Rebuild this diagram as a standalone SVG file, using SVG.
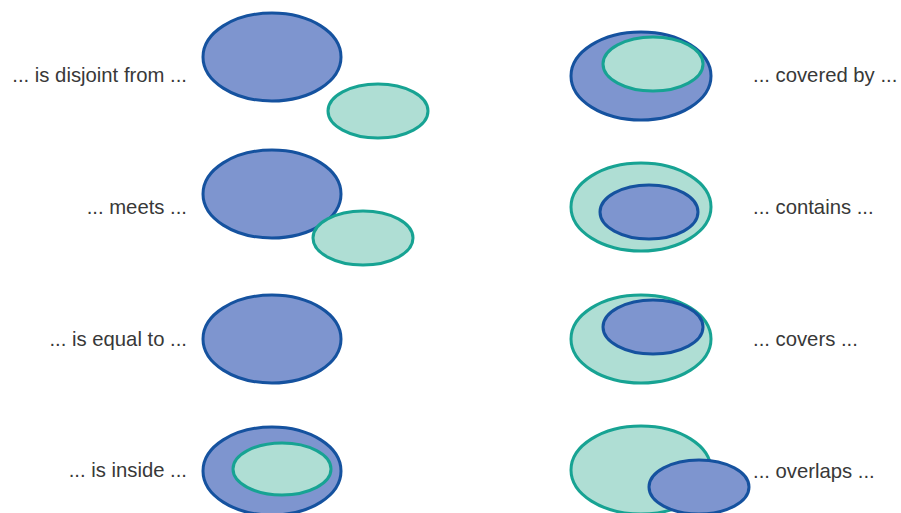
<svg xmlns="http://www.w3.org/2000/svg" width="901" height="513" viewBox="0 0 901 513">
<style>
.b{fill:#7e95cf;stroke:#15529f;stroke-width:3}
.t{fill:#afded4;stroke:#17a393;stroke-width:3}
.l{font-family:"Liberation Sans",Arial,sans-serif;font-size:20.3px;fill:#383838}
.r{text-anchor:end}
</style>
<rect width="901" height="513" fill="#fff"/>
<g id="disjoint">
<ellipse class="b" cx="272" cy="57" rx="69" ry="44"/>
<ellipse class="t" cx="378" cy="111" rx="50" ry="27"/>
<text class="l r" x="187" y="82">... is disjoint from ...</text>
</g>
<g id="meets">
<ellipse class="b" cx="272" cy="194" rx="69" ry="44"/>
<ellipse class="t" cx="363" cy="238" rx="50" ry="27"/>
<text class="l r" x="187" y="214">... meets ...</text>
</g>
<g id="equal">
<ellipse class="b" cx="272" cy="339" rx="69" ry="44"/>
<text class="l r" x="187" y="346">... is equal to ...</text>
</g>
<g id="inside">
<ellipse class="b" cx="272" cy="471" rx="69" ry="44"/>
<ellipse class="t" cx="282" cy="469" rx="49" ry="26"/>
<text class="l r" x="187" y="477">... is inside ...</text>
</g>
<g id="coveredby">
<ellipse class="b" cx="641" cy="76" rx="70" ry="44"/>
<ellipse class="t" cx="653" cy="64" rx="50" ry="27"/>
<text class="l" x="753" y="82">... covered by ...</text>
</g>
<g id="contains">
<ellipse class="t" cx="641" cy="207" rx="70" ry="44"/>
<ellipse class="b" cx="649" cy="212" rx="49" ry="27"/>
<text class="l" x="753" y="214">... contains ...</text>
</g>
<g id="covers">
<ellipse class="t" cx="641" cy="339" rx="70" ry="44"/>
<ellipse class="b" cx="653" cy="327" rx="50" ry="27"/>
<text class="l" x="753" y="346">... covers ...</text>
</g>
<g id="overlaps">
<ellipse class="t" cx="641" cy="470" rx="70" ry="44"/>
<ellipse class="b" cx="699" cy="487" rx="50" ry="27"/>
<text class="l" x="753" y="478">... overlaps ...</text>
</g>
</svg>
